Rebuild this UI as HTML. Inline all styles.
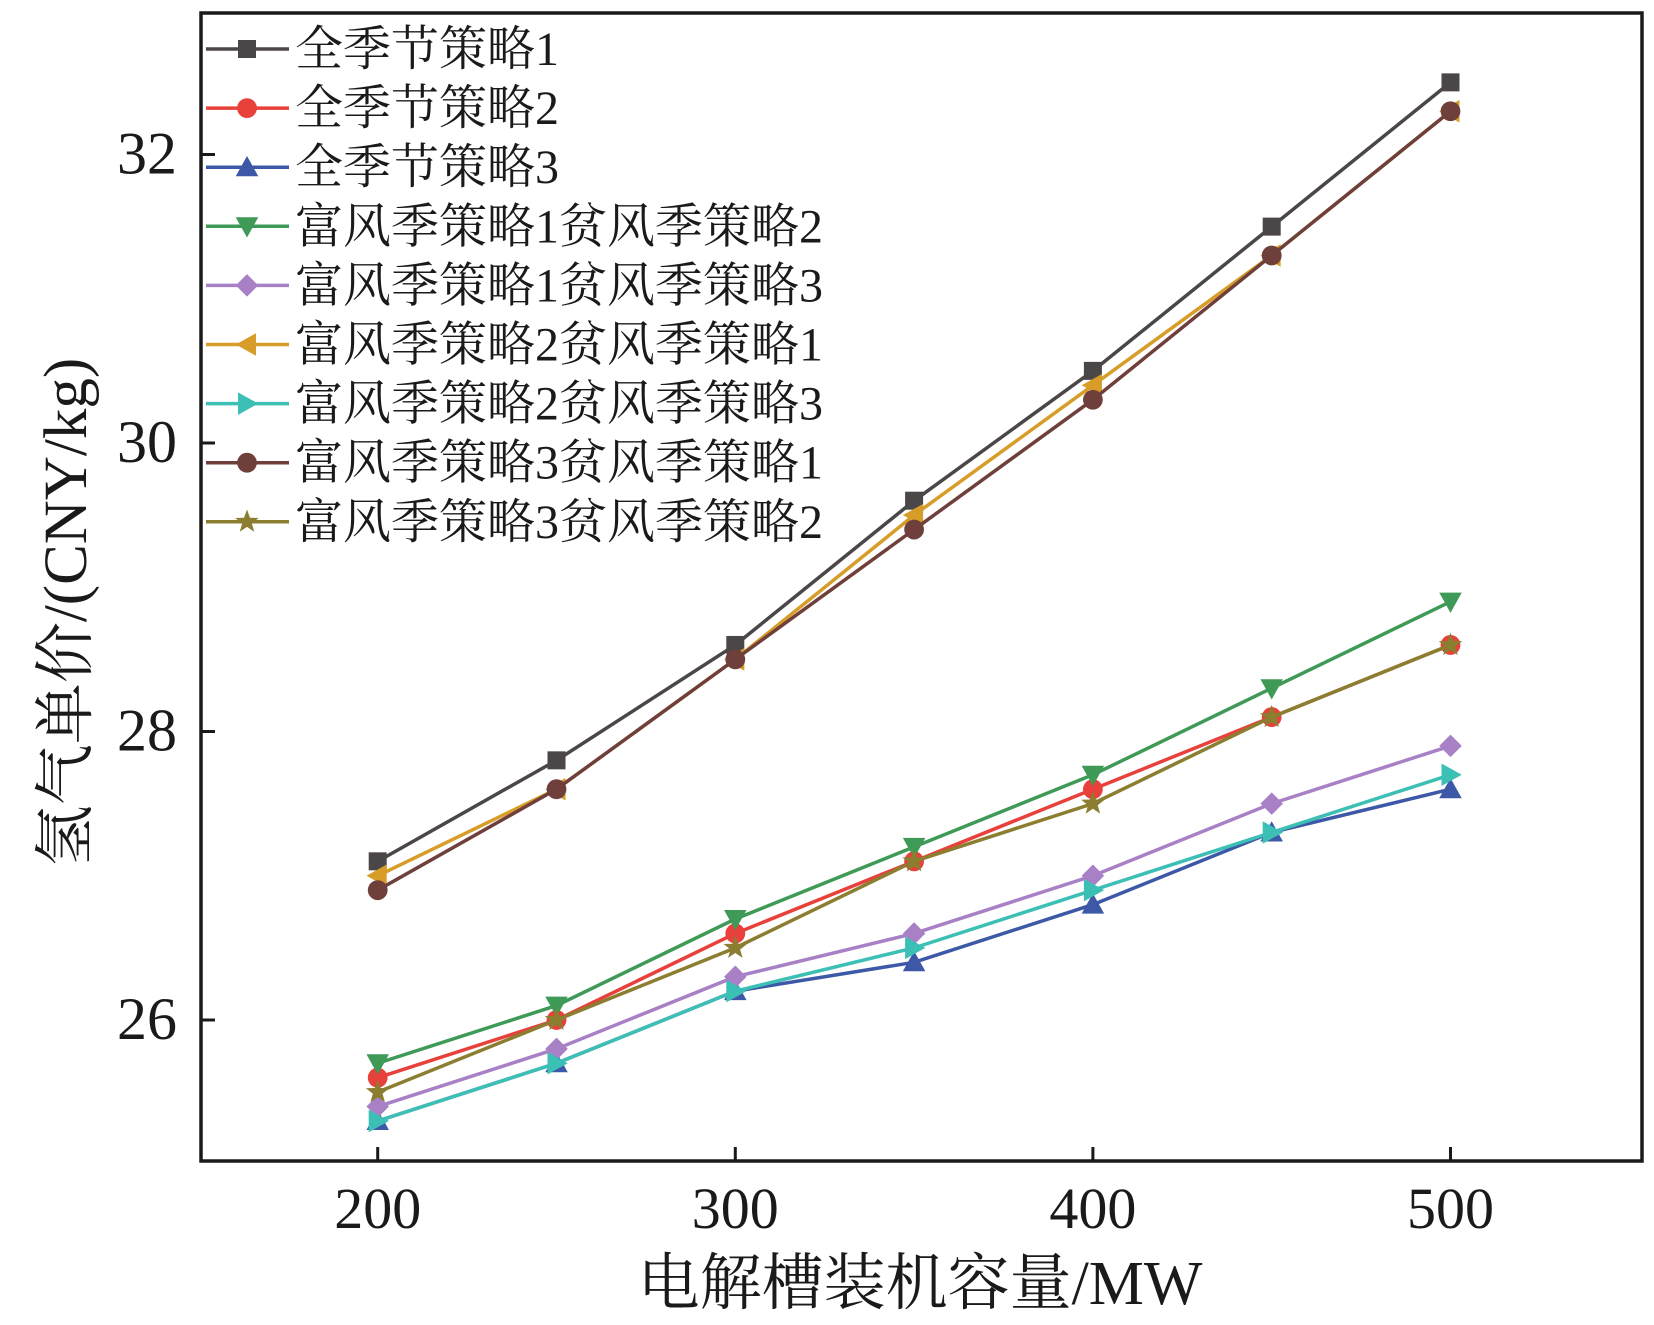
<!DOCTYPE html>
<html><head><meta charset="utf-8">
<style>
html,body{margin:0;padding:0;background:#fff;}
svg{display:block;}
text{font-family:"Liberation Serif","Noto Serif CJK SC",serif;fill:#1a1a1a;}
</style></head>
<body>
<svg id="chart" width="1654" height="1325" viewBox="0 0 1654 1325" xmlns="http://www.w3.org/2000/svg">
<rect x="0" y="0" width="1654" height="1325" fill="#fff"/>
<g id="series"></g>
<g id="axes"></g>
<g id="legend"></g>
</svg>
<script>
const categories = [200, 250, 300, 350, 400, 450, 500];
const xTicks = [200, 300, 400, 500];
const yTicks = [26, 28, 30, 32];
const seriesNames = ["全季节策略1","全季节策略2","全季节策略3","富风季策略1贫风季策略2","富风季策略1贫风季策略3","富风季策略2贫风季策略1","富风季策略2贫风季策略3","富风季策略3贫风季策略1","富风季策略3贫风季策略2"];
const s1 = [27.1, 27.8, 28.6, 29.6, 30.5, 31.5, 32.5];
const s2 = [25.6, 26.0, 26.6, 27.1, 27.6, 28.1, 28.6];
const s3 = [25.3, 25.7, 26.2, 26.4, 26.8, 27.3, 27.6];
const f1p2 = [25.7, 26.1, 26.7, 27.2, 27.7, 28.3, 28.9];
const f1p3 = [25.4, 25.8, 26.3, 26.6, 27.0, 27.5, 27.9];
const f2p1 = [27.0, 27.6, 28.5, 29.5, 30.4, 31.3, 32.3];
const f2p3 = [25.3, 25.7, 26.2, 26.5, 26.9, 27.3, 27.7];
const f3p1 = [26.9, 27.6, 28.5, 29.4, 30.3, 31.3, 32.3];
const f3p2 = [25.5, 26.0, 26.5, 27.1, 27.5, 28.1, 28.6];

const NS = "http://www.w3.org/2000/svg";
const L = 201, R = 1642, T = 13, B = 1161;
function xs(v){ return 377.7 + (v - 200) * (1450.5 - 377.7) / 300; }
function ys(v){ return 1020 - (v - 26) * 144.25; }
function mk(tag, attrs, parent){ const e = document.createElementNS(NS, tag); for (const k in attrs) e.setAttribute(k, attrs[k]); parent.appendChild(e); return e; }

const styles = [
 {d:s1, c:"#4b4647", m:"square"},
 {d:s2, c:"#e8403a", m:"circle"},
 {d:s3, c:"#3c58a6", m:"up"},
 {d:f1p2, c:"#3e9a56", m:"down"},
 {d:f1p3, c:"#a880c6", m:"diamond"},
 {d:f2p1, c:"#d79d28", m:"left"},
 {d:f2p3, c:"#3cbfb4", m:"right"},
 {d:f3p1, c:"#6f403b", m:"hex"},
 {d:f3p2, c:"#8b7e30", m:"star"}
];
function marker(g, type, x, y, c, s){
  let e;
  if (type==="square") e = mk("rect",{x:x-s,y:y-s,width:2*s,height:2*s,fill:c},g);
  else if (type==="circle") e = mk("circle",{cx:x,cy:y,r:s*1.1,fill:c},g);
  else if (type==="hex") e = mk("circle",{cx:x,cy:y,r:s*1.1,fill:c},g);
  else {
    let p;
    const k=s*1.25;
    if (type==="up") p=[[x,y-k],[x+k,y+k*0.8],[x-k,y+k*0.8]];
    else if (type==="down") p=[[x,y+k],[x+k,y-k*0.8],[x-k,y-k*0.8]];
    else if (type==="left") p=[[x-k,y],[x+k*0.8,y-k],[x+k*0.8,y+k]];
    else if (type==="right") p=[[x+k,y],[x-k*0.8,y-k],[x-k*0.8,y+k]];
    else if (type==="diamond") p=[[x,y-k],[x+k,y],[x,y+k],[x-k,y]];
    else { p=[]; for(let i=0;i<10;i++){const r=i%2?k*0.45:k*1.1;const a=-Math.PI/2+i*Math.PI/5;p.push([x+r*Math.cos(a),y+r*Math.sin(a)]);} }
    e = mk("polygon",{points:p.map(q=>q.join(",")).join(" "),fill:c},g);
  }
  return e;
}
const sg = document.getElementById("series");
styles.forEach((st, i) => {
  const g = mk("g", {}, sg);
  
  
  const pts = categories.map((cv, j) => xs(cv) + "," + ys(st.d[j])).join(" ");
  const pl = mk("polyline", {points:pts, fill:"none", stroke:st.c, "stroke-width":3.5}, g);
  
  
  categories.forEach((cv, j) => {
    const m = marker(g, st.m, xs(cv), ys(st.d[j]), st.c, 9);
    
    
  });
});

const ag = document.getElementById("axes");
const frame = mk("rect", {x:L, y:T, width:R-L, height:B-T, fill:"none", stroke:"#1a1a1a", "stroke-width":3.5}, ag);


xTicks.forEach(v => {
  const t = mk("line", {x1:xs(v), y1:B, x2:xs(v), y2:B-14, stroke:"#1a1a1a", "stroke-width":3}, ag);
  
  
  const lb = mk("text", {x:xs(v), y:1228, "text-anchor":"middle", "font-size":58}, ag);
  lb.textContent = v;
  
  
});
yTicks.forEach(v => {
  const t = mk("line", {x1:L, y1:ys(v), x2:L+14, y2:ys(v), stroke:"#1a1a1a", "stroke-width":3}, ag);
  
  
  const lb = mk("text", {x:177, y:ys(v)+19, "text-anchor":"end", "font-size":60}, ag);
  lb.textContent = v;
  
  
});
const xt = mk("text", {x:920, y:1304, "text-anchor":"middle", "font-size":62}, ag);
xt.textContent = "电解槽装机容量/MW";


const yt = mk("text", {x:0, y:0, "text-anchor":"middle", "font-size":61, transform:"translate(86,612) rotate(-90)"}, ag);
yt.textContent = "氢气单价/(CNY/kg)";



const lg = document.getElementById("legend");
styles.forEach((st, i) => {
  const y = 49 + i * 59.1;
  const g = mk("g", {}, lg);
  
  
  mk("line", {x1:206, y1:y, x2:289, y2:y, stroke:st.c, "stroke-width":3.5}, g);
  marker(g, st.m, 247, y, st.c, 9);
  const t = mk("text", {x:295, y:y+16, "font-size":48}, g);
  t.textContent = seriesNames[i];
  
  
});
</script>
</body></html>
